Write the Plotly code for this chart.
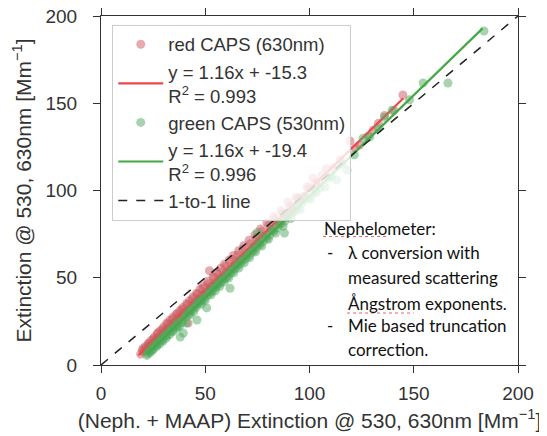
import plotly.graph_objects as go

# ---- data ----
red_x = [19.0, 19.8, 20.5, 21.2, 21.9, 22.5, 23.3, 24.0, 24.8, 25.5, 26.3, 27.0, 27.6, 28.4, 29.1,
         30.0, 30.8, 31.5, 32.2, 33.0, 33.9, 34.6, 35.4, 36.1, 37.0, 37.8, 38.5, 39.3, 40.1, 41.0,
         41.8, 42.5, 43.4, 44.2, 45.0, 45.9, 46.8, 47.5, 48.4, 49.3, 50.1, 51.0, 52.0, 52.9, 53.8,
         54.6, 55.5, 56.5, 57.4, 58.3, 59.2, 60.4, 61.5, 62.6, 63.5, 64.8, 66.0, 67.2, 68.5, 69.8,
         71.0, 72.4, 73.8, 75.1, 76.5, 78.0, 79.6, 81.2, 82.8, 84.5, 86.3, 88.0, 89.7, 91.5, 93.6,
         95.8, 98.8, 101.7, 104.5, 108.0, 111.5, 114.6, 119.4, 124.0, 130.5, 136.0, 140.5, 144.8,
         20.2, 21.5, 22.9, 23.8, 25.1, 26.0, 27.3, 28.0, 29.5, 30.3, 31.9, 32.6, 34.2, 35.0, 36.6,
         37.4, 38.9, 39.8, 41.3, 42.1, 43.8, 44.6, 46.2, 47.1, 48.8, 49.7, 51.4, 52.4, 54.1, 55.0,
         56.9, 58.0, 59.8, 60.9, 62.9, 64.1, 65.5, 66.7, 68.0, 69.3, 71.6, 72.9, 74.5, 75.8, 77.3,
         79.0, 80.5, 82.1, 83.6, 85.4, 87.1, 88.9, 90.6, 92.5, 94.7, 97.2, 100.0, 103.0, 106.0,
         122.0, 128.0, 133.0]
red_y = [6.2, 8.4, 7.6, 10.5, 9.4, 12.0, 11.2, 14.1, 12.6, 16.0, 14.5, 17.9, 15.8, 19.6, 17.4,
         21.8, 19.7, 24.0, 21.0, 25.6, 23.2, 27.5, 24.6, 29.0, 26.8, 31.2, 28.1, 33.0, 30.5, 35.2,
         24.0, 36.8, 34.2, 39.1, 35.8, 41.0, 38.2, 43.5, 40.0, 45.2, 41.6, 48.0, 54.0, 45.2, 50.6,
         47.0, 53.0, 49.0, 55.4, 51.0, 57.8, 53.5, 60.2, 56.0, 62.8, 58.6, 65.5, 61.0, 68.4, 64.0,
         71.5, 67.0, 74.6, 70.5, 78.0, 73.8, 81.5, 77.6, 85.0, 81.3, 88.5, 85.2, 93.4, 89.6, 96.0,
         94.5, 102.0, 107.2, 104.8, 112.5, 113.0, 117.5, 128.4, 126.0, 134.5, 143.0, 146.0, 154.7,
         9.5, 8.6, 12.5, 10.9, 15.0, 13.1, 18.5, 16.0, 20.5, 18.2, 23.5, 20.9, 26.2, 23.8, 29.5,
         27.0, 32.0, 29.6, 34.5, 31.8, 37.8, 34.5, 40.8, 37.5, 44.0, 40.6, 46.5, 44.3, 50.0, 46.4,
         53.0, 49.8, 56.6, 53.0, 60.5, 57.0, 63.0, 60.0, 66.5, 62.8, 69.5, 66.0, 73.0, 69.8, 76.5,
         73.5, 80.0, 77.0, 83.5, 80.5, 87.0, 84.5, 91.0, 88.0, 95.5, 96.5, 101.5, 104.0, 108.5,
         124.5, 131.0, 138.5]

green_x = [22.0, 22.8, 23.5, 24.3, 25.0, 25.8, 26.6, 27.4, 28.1, 28.9, 29.7, 30.5, 31.3, 32.1, 33.0,
           33.8, 34.6, 35.5, 36.3, 37.1, 38.0, 38.9, 39.5, 40.3, 41.0, 41.9, 42.8, 43.6, 44.5, 45.4,
           46.0, 47.2, 48.1, 49.0, 50.0, 50.7, 51.8, 52.8, 53.8, 54.8, 55.9, 56.9, 58.0, 59.1, 60.2,
           61.3, 61.9, 62.5, 63.7, 64.9, 66.1, 67.4, 68.7, 70.0, 71.3, 72.7, 74.1, 75.0, 75.6, 77.1,
           78.7, 80.3, 82.0, 83.7, 85.5, 87.3, 88.0, 89.2, 91.2, 93.3, 95.5, 98.0, 100.5, 103.3, 107.4,
           110.5, 113.0, 118.0, 121.5, 125.7, 129.0, 133.0, 136.0, 139.6, 148.0, 154.5, 166.4, 183.7,
           22.4, 23.9, 24.7, 26.2, 27.0, 28.5, 29.3, 30.9, 31.7, 33.4, 34.2, 35.9, 36.7, 37.6, 39.1,
           40.7, 42.3, 43.1, 44.9, 45.8, 46.6, 47.7, 48.6, 49.5, 51.2, 52.3, 53.3, 54.3, 55.4, 56.4,
           57.5, 58.6, 59.7, 60.8, 62.0, 63.1, 64.3, 65.5, 66.8, 68.0, 69.4, 70.7, 72.0, 73.4, 74.8,
           76.3, 77.9, 79.5, 81.1, 82.8, 84.6, 86.4, 88.2, 90.2, 92.2, 94.4, 96.7, 99.2, 102.0, 105.0,
           109.0, 115.5]
green_y = [5.5, 7.8, 7.0, 9.9, 8.7, 11.6, 10.4, 13.5, 12.0, 15.3, 13.6, 17.2, 15.4, 19.0, 17.5,
           21.0, 19.2, 23.0, 21.0, 24.9, 16.0, 24.2, 18.3, 28.6, 24.0, 30.5, 28.7, 32.4, 30.6, 34.6,
           25.8, 36.7, 34.8, 38.8, 37.0, 32.7, 42.0, 40.2, 44.3, 42.5, 46.8, 45.0, 49.3, 47.6, 51.9,
           50.0, 44.0, 54.5, 52.8, 57.4, 55.6, 60.3, 58.5, 63.4, 61.5, 66.5, 64.8, 76.0, 70.0, 68.2,
           73.6, 72.0, 77.5, 75.6, 81.8, 79.5, 75.6, 86.0, 84.0, 91.0, 89.0, 96.5, 95.0, 99.0, 102.0,
           108.0, 106.0, 111.7, 120.5, 130.0, 130.7, 135.5, 142.0, 146.0, 152.0, 161.6, 161.6, 191.4,
           6.5, 8.0, 9.0, 11.2, 11.6, 13.8, 14.2, 16.5, 17.0, 19.5, 19.8, 22.0, 22.5, 22.0, 25.5,
           27.5, 29.3, 30.8, 32.5, 33.5, 35.5, 36.0, 37.0, 38.0, 40.0, 41.5, 42.4, 44.0, 45.0, 46.2,
           47.4, 49.0, 49.5, 51.0, 52.5, 54.0, 55.3, 56.8, 58.0, 59.8, 60.8, 62.5, 64.2, 65.5, 67.5,
           69.0, 71.0, 72.5, 74.5, 76.8, 78.5, 81.0, 82.5, 85.5, 87.5, 90.5, 93.0, 95.5, 98.5, 101.5,
           107.0, 115.0]

red_fit_x = [18.0, 145.0]
red_fit_y = [5.6, 152.9]
green_fit_x = [22.0, 183.0]
green_fit_y = [6.1, 192.9]
one_x = [0, 200]
one_y = [0, 200]

red_label = "red CAPS (630nm)"
red_fit_label = "y = 1.16x + -15.3<br>R<sup>2</sup> = 0.993"
green_label = "green CAPS (530nm)"
green_fit_label = "y = 1.16x + -19.4<br>R<sup>2</sup> = 0.996"
one_label = "1-to-1 line"

x_title = "(Neph. + MAAP) Extinction @ 530, 630nm [Mm<sup>−1</sup>]"
y_title = "Extinction @ 530, 630nm [Mm<sup>−1</sup>]"

note_lines = ["Nephelometer:", "λ conversion with", "measured scattering",
              "Ångstrom exponents.", "Mie based truncation", "correction."]

ARIAL = "Arial, Liberation Sans, sans-serif"

fig = go.Figure()
fig.add_trace(go.Scatter(x=red_x, y=red_y, mode="markers", name=red_label,
                         marker=dict(size=9, color="rgba(204,90,95,0.5)", line=dict(width=0))))
fig.add_trace(go.Scatter(x=red_fit_x, y=red_fit_y, mode="lines", name=red_fit_label,
                         line=dict(color="#f0474a", width=2.2)))
fig.add_trace(go.Scatter(x=green_x, y=green_y, mode="markers", name=green_label,
                         marker=dict(size=9, color="rgba(80,170,95,0.5)", line=dict(width=0))))
fig.add_trace(go.Scatter(x=green_fit_x, y=green_fit_y, mode="lines", name=green_fit_label,
                         line=dict(color="#45a845", width=2.2)))
fig.add_trace(go.Scatter(x=one_x, y=one_y, mode="lines", name=one_label,
                         line=dict(color="#222222", width=1.5, dash="dash")))

ann_font = dict(family="Lato, Noto Sans, sans-serif", size=17, color="#111111")
x_dash = 107.5
x_text = 117.5
ys = [78.5, 64.2, 49.9, 35.0, 22.9, 8.6]
fig.add_annotation(x=106.0, y=ys[0], text=note_lines[0], showarrow=False, xanchor="left",
                   yanchor="middle", font=ann_font)
for i in range(1, 6):
    fig.add_annotation(x=x_text, y=ys[i], text=note_lines[i], showarrow=False, xanchor="left",
                       yanchor="middle", font=ann_font)
for i in (1, 4):
    fig.add_annotation(x=x_dash, y=ys[i], text="-", showarrow=False, xanchor="left",
                       yanchor="middle", font=ann_font)

# spell-check style underlines seen in the reference
for (x0, x1, yy) in [(106.5, 137.0, 73.6), (118.0, 150.0, 29.8)]:
    fig.add_shape(type="line", x0=x0, x1=x1, y0=yy, y1=yy, xref="x", yref="y",
                  line=dict(color="rgba(230,60,60,0.8)", width=1, dash="dot"))

axis_common = dict(range=[0, 200], tickvals=[0, 50, 100, 150, 200], showline=True,
                   linecolor="#333333", linewidth=1.2, mirror="ticks", ticks="outside",
                   ticklen=7, tickcolor="#333333", tickwidth=1.2, showgrid=False,
                   zeroline=False, automargin=False, ticklabeloverflow="allow",
                   tickfont=dict(family=ARIAL, size=19, color="#333333"))

# the page has an 8px body margin, so the figure is drawn 8px in from the top-left
fig.update_layout(
    width=539, height=428,
    margin=dict(l=93, r=29, t=8, b=71),
    paper_bgcolor="white", plot_bgcolor="white",
    font=dict(family=ARIAL, color="#333333"),
    showlegend=True,
    legend=dict(x=0.027, y=0.975, xanchor="left", yanchor="top",
                bgcolor="rgba(255,255,255,0.8)", bordercolor="#cccccc", borderwidth=1,
                font=dict(family=ARIAL, size=18.5, color="#333333"),
                itemwidth=45, tracegroupgap=0),
)
fig.update_xaxes(title_text=x_title, title_standoff=10, ticklabelstandoff=4,
                 title_font=dict(family=ARIAL, size=21, color="#333333"), **axis_common)
fig.update_yaxes(title_text=y_title, title_standoff=8, ticklabelstandoff=12,
                 title_font=dict(family=ARIAL, size=21, color="#333333"), **axis_common)

fig.write_html("out.html")
